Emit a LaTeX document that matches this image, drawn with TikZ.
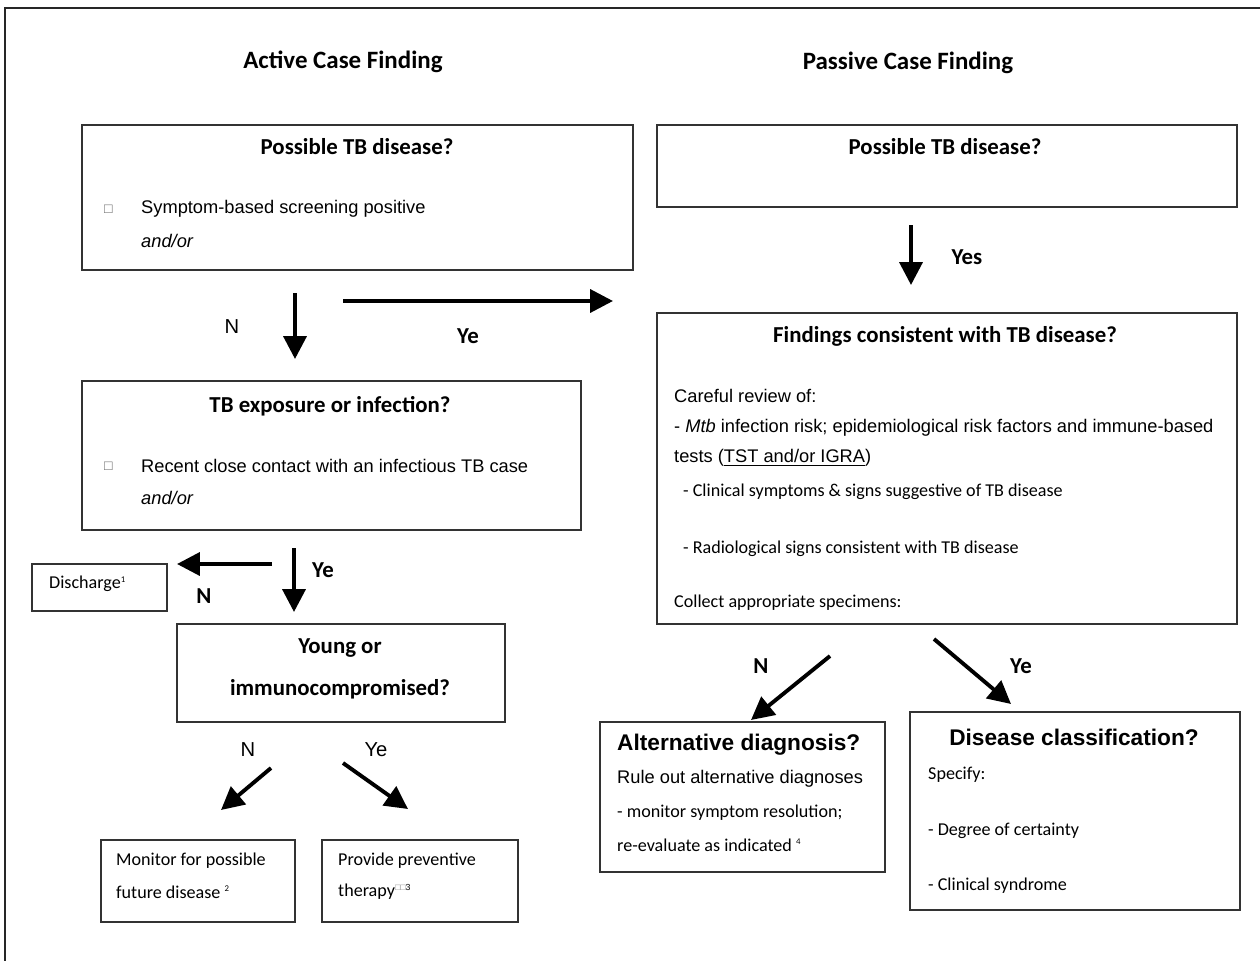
\documentclass[tikz,border=0pt]{standalone}
\usepackage{fontspec}
\setmainfont{Carlito}
\newfontfamily\arialf{Liberation Sans}
\usetikzlibrary{arrows.meta, fit}

\tikzset{
    box/.style={draw=black!80, line width=1pt, inner sep=0pt},
    arr/.style={line width=2.2pt, -{Triangle[length=13pt, width=13pt]}},
    head/.style={font=\fontsize{14.2}{16}\selectfont\bfseries},
    ttl/.style={font=\fontsize{13}{15}\selectfont\bfseries},
    atl/.style={font=\arialf\fontsize{12.9}{15}\selectfont\bfseries},
    atx/.style={anchor=west, font=\arialf\fontsize{10.4}{12}\selectfont},
    ctx/.style={anchor=west, font=\fontsize{10.3}{12}\selectfont},
    lab/.style={font=\fontsize{13}{15}\selectfont\bfseries},
    alab/.style={font=\arialf\fontsize{11.5}{14}\selectfont}
}

\begin{document}
\begin{tikzpicture}[x=0.02cm, y=-0.02cm]
    \useasboundingbox (0,0) rectangle (1260,960);
    \draw[line width=1.6pt, black!85] (1265,8) -| (5,965);

    % column headings
    \node[head] (act) at (343,62) {Active Case Finding};
    \node[head] (pas) at (908,63) {Passive Case Finding};

    % boxes
    \node[box, fit={(82,125) (633,270)}] (poss) {};
    \node[box, fit={(657,125) (1237,207)}] (possr) {};
    \node[box, fit={(82,381) (581,530)}] (expo) {};
    \node[box, fit={(657,313) (1237,624)}] (find) {};
    \node[box, fit={(32,564) (167,611)}] (disc) {};
    \node[box, fit={(177,624) (505,722)}] (young) {};
    \node[box, fit={(101,840) (295,922)}] (mon) {};
    \node[box, fit={(322,840) (518,922)}] (prov) {};
    \node[box, fit={(600,722) (885,872)}] (alt) {};
    \node[box, fit={(910,712) (1240,910)}] (cls) {};

    % active case finding texts
    \node[ttl] (possT) at (357,147) {Possible TB disease?};
    \node[atx, font=\arialf\fontsize{8}{10}\selectfont, black!60] (chk1) at (98,209) {□};
    \node[atx] (sym) at (135,209) {Symptom-based screening positive};
    \node[atx, font=\arialf\itshape\fontsize{10.4}{12}\selectfont] (ao1) at (135,241) {and/or};

    \node[ttl] (expoT) at (330,406) {TB exposure or infection?};
    \node[atx, font=\arialf\fontsize{8}{10}\selectfont, black!60] (chk2) at (98,466) {□};
    \node[atx] (rec) at (135,466) {Recent close contact with an infectious TB case};
    \node[atx, font=\arialf\itshape\fontsize{10.4}{12}\selectfont] (ao2) at (135,498) {and/or};

    \node[ctx] (discT) at (43,584) {Discharge\textsuperscript{\tiny 1}};
    \node[ttl] (youngA) at (340,648) {Young or};
    \node[ttl] (youngB) at (340,689) {immunocompromised?};

    \node[ctx] (monA) at (110,861) {Monitor for possible};
    \node[ctx] (monB) at (110,892) {future disease \textsuperscript{\tiny 2}};
    \node[ctx] (provA) at (332,861) {Provide preventive};
    \node[ctx] (provB) at (332,892) {therapy\textsuperscript{\tiny\color{black!50}\arialf □□\color{black} 3}};

    % passive case finding texts
    \node[ttl] (possrT) at (945,147) {Possible TB disease?};
    \node[ttl] (findT) at (945,336) {Findings consistent with TB disease?};
    \node[atx] (rev) at (668,396) {Careful review of:};
    \node[atx] (mtb) at (668,428) {- \textit{Mtb} infection risk; epidemiological risk factors and immune-based};
    \node[atx] (tst) at (668,458) {tests (\underline{TST and/or IGRA})};
    \node[ctx] (clin) at (677,492) {- Clinical symptoms \& signs suggestive of TB disease};
    \node[ctx] (rad) at (677,549) {- Radiological signs consistent with TB disease};
    \node[ctx] (coll) at (668,603) {Collect appropriate specimens:};

    \node[atl, anchor=west] (altT) at (611,745) {Alternative diagnosis?};
    \node[atx] (rule) at (611,779) {Rule out alternative diagnoses};
    \node[ctx] (msr) at (611,813) {- monitor symptom resolution;};
    \node[ctx] (reev) at (611,845) {re-evaluate as indicated \textsuperscript{\tiny 4}};

    \node[atl] (clsT) at (1074,737) {Disease classification?};
    \node[ctx] (spec) at (922,775) {Specify:};
    \node[ctx] (deg) at (922,831) {- Degree of certainty};
    \node[ctx] (syn) at (922,886) {- Clinical syndrome};

    % arrow ends
    \coordinate (a1s) at (295,293);  \coordinate (a1e) at (295,359);
    \coordinate (a2s) at (343,301);  \coordinate (a2e) at (613,301);
    \coordinate (a3s) at (911,225);  \coordinate (a3e) at (911,285);
    \coordinate (a4s) at (272,564);  \coordinate (a4e) at (177,564);
    \coordinate (a5s) at (294,548);  \coordinate (a5e) at (294,612);
    \coordinate (a6s) at (271,768);  \coordinate (a6e) at (221,810);
    \coordinate (a7s) at (343,763);  \coordinate (a7e) at (408,809);
    \coordinate (a8s) at (830,656);  \coordinate (a8e) at (751,720);
    \coordinate (a9s) at (934,639);  \coordinate (a9e) at (1011,704);

    \draw[arr] (a1s) -- (a1e);
    \draw[arr] (a2s) -- (a2e);
    \draw[arr] (a3s) -- (a3e);
    \draw[arr] (a4s) -- (a4e);
    \draw[arr] (a5s) -- (a5e);
    \draw[arr] (a6s) -- (a6e);
    \draw[arr] (a7s) -- (a7e);
    \draw[arr] (a8s) -- (a8e);
    \draw[arr] (a9s) -- (a9e);

    % labels
    \node[alab] (n1) at (232,327) {N};
    \node[lab] (y1) at (468,336) {Ye};
    \node[lab] (y2) at (967,257) {Yes};
    \node[lab] (n2) at (204,596) {N};
    \node[lab] (y3) at (323,570) {Ye};
    \node[alab] (n3) at (248,750) {N};
    \node[alab] (y4) at (376,750) {Ye};
    \node[lab] (n4) at (761,666) {N};
    \node[lab] (y5) at (1021,666) {Ye};
\end{tikzpicture}
\end{document}
